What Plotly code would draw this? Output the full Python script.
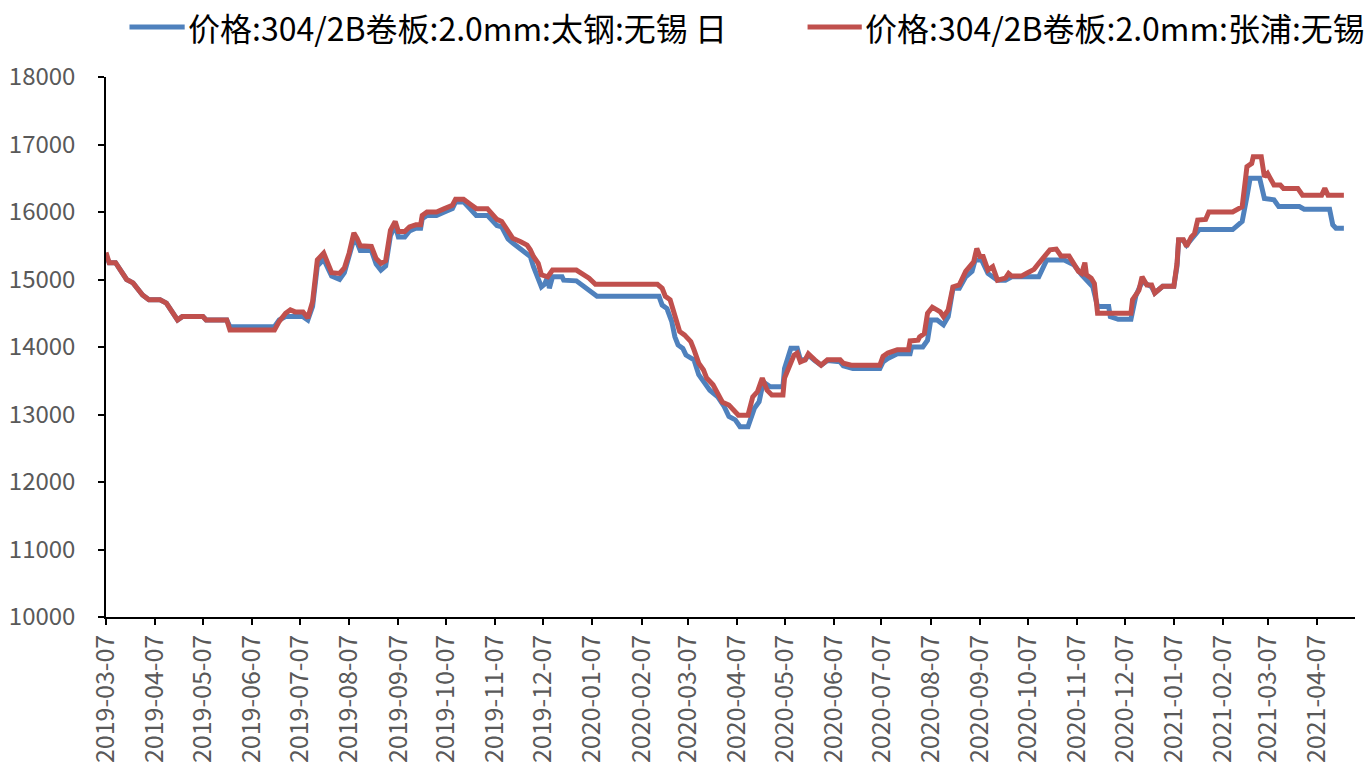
import plotly.graph_objects as go

# ---- data -------------------------------------------------------------
series_names = [
    "价格:304/2B卷板:2.0mm:太钢:无锡 日",
    "价格:304/2B卷板:2.0mm:张浦:无锡",
]

taigang_dates = [
    "2019-03-07", "2019-03-09", "2019-03-13", "2019-03-17", "2019-03-20", "2019-03-24",
    "2019-03-27", "2019-03-30", "2019-04-03", "2019-04-10", "2019-04-14", "2019-04-17",
    "2019-04-21", "2019-04-24", "2019-05-07", "2019-05-09", "2019-05-22", "2019-05-24",
    "2019-06-21", "2019-06-24", "2019-06-28", "2019-07-01", "2019-07-09", "2019-07-12",
    "2019-07-15", "2019-07-18", "2019-07-22", "2019-07-25", "2019-07-27", "2019-08-01",
    "2019-08-04", "2019-08-07", "2019-08-10", "2019-08-12", "2019-08-14", "2019-08-21",
    "2019-08-24", "2019-08-27", "2019-08-30", "2019-09-02", "2019-09-05", "2019-09-07",
    "2019-09-11", "2019-09-14", "2019-09-18", "2019-09-21", "2019-09-22", "2019-09-25",
    "2019-10-01", "2019-10-06", "2019-10-11", "2019-10-13", "2019-10-18", "2019-10-22",
    "2019-10-26", "2019-11-02", "2019-11-05", "2019-11-08", "2019-11-11", "2019-11-15",
    "2019-11-18", "2019-11-23", "2019-11-29", "2019-12-01", "2019-12-04", "2019-12-06",
    "2019-12-08", "2019-12-10", "2019-12-11", "2019-12-13", "2019-12-19", "2019-12-20",
    "2019-12-28", "2020-01-02", "2020-01-05", "2020-01-10", "2020-02-18", "2020-02-20",
    "2020-02-23", "2020-02-26", "2020-02-28", "2020-03-01", "2020-03-04", "2020-03-06",
    "2020-03-11", "2020-03-14", "2020-03-17", "2020-03-21", "2020-03-26", "2020-03-30",
    "2020-04-02", "2020-04-06", "2020-04-09", "2020-04-14", "2020-04-18", "2020-04-21",
    "2020-04-23", "2020-04-25", "2020-04-28", "2020-05-06", "2020-05-07", "2020-05-11",
    "2020-05-15", "2020-05-17", "2020-05-20", "2020-05-22", "2020-05-26", "2020-05-30",
    "2020-06-03", "2020-06-11", "2020-06-13", "2020-06-19", "2020-07-06", "2020-07-08",
    "2020-07-11", "2020-07-17", "2020-07-25", "2020-07-26", "2020-08-02", "2020-08-05",
    "2020-08-07", "2020-08-11", "2020-08-15", "2020-08-18", "2020-08-21", "2020-08-25",
    "2020-08-29", "2020-09-02", "2020-09-04", "2020-09-08", "2020-09-12", "2020-09-18",
    "2020-09-23", "2020-09-27", "2020-10-14", "2020-10-16", "2020-10-19", "2020-10-30",
    "2020-11-05", "2020-11-10", "2020-11-13", "2020-11-17", "2020-11-20", "2020-11-27",
    "2020-11-28", "2020-12-03", "2020-12-11", "2020-12-14", "2020-12-18", "2020-12-24",
    "2020-12-26", "2020-12-31", "2021-01-07", "2021-01-09", "2021-01-10", "2021-01-13",
    "2021-01-15", "2021-01-23", "2021-02-13", "2021-02-19", "2021-02-22", "2021-02-24",
    "2021-03-02", "2021-03-05", "2021-03-11", "2021-03-14", "2021-03-27", "2021-03-30",
    "2021-04-15", "2021-04-17", "2021-04-19", "2021-04-24",
]
taigang_prices = [
    15350, 15250, 15250, 15100, 15000, 14950,
    14870, 14770, 14700, 14700, 14650, 14550,
    14400, 14450, 14450, 14400, 14400, 14300,
    14300, 14400, 14450, 14450, 14450, 14400,
    14600, 15200, 15300, 15150, 15050, 15000,
    15100, 15350, 15600, 15550, 15430, 15430,
    15230, 15140, 15200, 15650, 15800, 15630,
    15630, 15720, 15760, 15760, 15900, 15950,
    15950, 16000, 16050, 16150, 16150, 16050,
    15950, 15950, 15880, 15800, 15780, 15600,
    15540, 15450, 15340, 15190, 15020, 14890,
    14930, 15040, 14870, 15040, 15040, 14990,
    14980, 14890, 14820, 14750, 14750, 14620,
    14570, 14380, 14150, 14030, 13980, 13880,
    13810, 13590, 13490, 13360, 13260, 13120,
    12970, 12920, 12820, 12820, 13090, 13190,
    13410, 13460, 13410, 13410, 13680, 13980,
    13980, 13810, 13810, 13880, 13800, 13730,
    13800, 13780, 13720, 13680, 13680, 13780,
    13830, 13900, 13900, 14000, 14000, 14100,
    14400, 14400, 14330, 14450, 14870, 14870,
    15040, 15120, 15290, 15290, 15090, 14990,
    14990, 15040, 15040, 15140, 15290, 15290,
    15220, 15070, 14990, 14890, 14600, 14600,
    14450, 14410, 14410, 14750, 14970, 14890,
    14800, 14900, 14900, 15200, 15580, 15580,
    15510, 15740, 15740, 15860, 16230, 16500,
    16500, 16200, 16180, 16080, 16080, 16040,
    16040, 15810, 15760, 15760,
]

zhangpu_dates = [
    "2019-03-07", "2019-03-09", "2019-03-13", "2019-03-17", "2019-03-20", "2019-03-24",
    "2019-03-27", "2019-03-30", "2019-04-03", "2019-04-10", "2019-04-14", "2019-04-17",
    "2019-04-21", "2019-04-24", "2019-05-07", "2019-05-09", "2019-05-22", "2019-05-24",
    "2019-06-21", "2019-06-24", "2019-06-28", "2019-07-01", "2019-07-04", "2019-07-09",
    "2019-07-12", "2019-07-15", "2019-07-18", "2019-07-22", "2019-07-25", "2019-07-27",
    "2019-08-01", "2019-08-04", "2019-08-07", "2019-08-10", "2019-08-12", "2019-08-14",
    "2019-08-21", "2019-08-24", "2019-08-27", "2019-08-30", "2019-09-02", "2019-09-05",
    "2019-09-07", "2019-09-11", "2019-09-14", "2019-09-18", "2019-09-21", "2019-09-22",
    "2019-09-25", "2019-10-01", "2019-10-06", "2019-10-11", "2019-10-13", "2019-10-18",
    "2019-10-22", "2019-10-26", "2019-11-02", "2019-11-05", "2019-11-08", "2019-11-11",
    "2019-11-15", "2019-11-18", "2019-11-23", "2019-11-27", "2019-11-29", "2019-12-01",
    "2019-12-04", "2019-12-06", "2019-12-10", "2019-12-13", "2019-12-28", "2020-01-02",
    "2020-01-05", "2020-01-09", "2020-02-17", "2020-02-20", "2020-02-22", "2020-02-25",
    "2020-02-27", "2020-02-29", "2020-03-02", "2020-03-05", "2020-03-09", "2020-03-11",
    "2020-03-14", "2020-03-17", "2020-03-19", "2020-03-23", "2020-03-26", "2020-03-29",
    "2020-04-02", "2020-04-05", "2020-04-08", "2020-04-14", "2020-04-17", "2020-04-20",
    "2020-04-23", "2020-04-26", "2020-04-29", "2020-05-06", "2020-05-07", "2020-05-10",
    "2020-05-13", "2020-05-15", "2020-05-17", "2020-05-20", "2020-05-22", "2020-05-26",
    "2020-05-30", "2020-06-03", "2020-06-11", "2020-06-13", "2020-06-18", "2020-07-06",
    "2020-07-08", "2020-07-11", "2020-07-17", "2020-07-24", "2020-07-25", "2020-07-30",
    "2020-07-31", "2020-08-03", "2020-08-05", "2020-08-08", "2020-08-13", "2020-08-15",
    "2020-08-18", "2020-08-21", "2020-08-25", "2020-08-29", "2020-09-01", "2020-09-03",
    "2020-09-05", "2020-09-07", "2020-09-09", "2020-09-12", "2020-09-15", "2020-09-18",
    "2020-09-23", "2020-09-25", "2020-09-27", "2020-10-03", "2020-10-07", "2020-10-11",
    "2020-10-14", "2020-10-18", "2020-10-21", "2020-10-25", "2020-10-28", "2020-11-02",
    "2020-11-05", "2020-11-08", "2020-11-10", "2020-11-12", "2020-11-13", "2020-11-16",
    "2020-11-18", "2020-11-20", "2020-12-11", "2020-12-12", "2020-12-16", "2020-12-18",
    "2020-12-21", "2020-12-24", "2020-12-26", "2020-12-31", "2021-01-07", "2021-01-09",
    "2021-01-10", "2021-01-13", "2021-01-15", "2021-01-18", "2021-01-20", "2021-01-22",
    "2021-01-27", "2021-01-29", "2021-02-13", "2021-02-19", "2021-02-21", "2021-02-22",
    "2021-02-25", "2021-02-26", "2021-03-03", "2021-03-05", "2021-03-07", "2021-03-09",
    "2021-03-11", "2021-03-15", "2021-03-17", "2021-03-26", "2021-03-29", "2021-04-10",
    "2021-04-12", "2021-04-14", "2021-04-24",
]
zhangpu_prices = [
    15400, 15250, 15250, 15100, 15000, 14950,
    14870, 14770, 14700, 14700, 14650, 14550,
    14400, 14450, 14450, 14400, 14400, 14250,
    14250, 14380, 14500, 14550, 14520, 14520,
    14430, 14670, 15290, 15390, 15240, 15100,
    15090, 15170, 15390, 15690, 15610, 15500,
    15490, 15310, 15240, 15280, 15730, 15860,
    15710, 15710, 15780, 15810, 15810, 15950,
    16000, 16000, 16050, 16100, 16190, 16190,
    16120, 16050, 16050, 15980, 15890, 15860,
    15710, 15610, 15560, 15510, 15440, 15340,
    15240, 15070, 15040, 15140, 15140, 15070,
    15020, 14930, 14930, 14870, 14750, 14700,
    14520, 14350, 14230, 14180, 14080, 13960,
    13760, 13660, 13540, 13440, 13290, 13180,
    13140, 13070, 12990, 12990, 13260, 13340,
    13540, 13360, 13290, 13290, 13540, 13710,
    13880, 13910, 13780, 13810, 13900, 13810,
    13730, 13810, 13810, 13760, 13730, 13730,
    13860, 13910, 13960, 13960, 14090, 14100,
    14150, 14200, 14500, 14590, 14520, 14450,
    14550, 14890, 14920, 15120, 15190, 15260,
    15460, 15340, 15340, 15140, 15190, 14990,
    15020, 15090, 15050, 15050, 15100, 15150,
    15240, 15360, 15440, 15450, 15350, 15350,
    15250, 15120, 15090, 15250, 15070, 15020,
    14940, 14500, 14500, 14700, 14840, 15040,
    14920, 14920, 14800, 14900, 14900, 15240,
    15590, 15590, 15490, 15630, 15680, 15880,
    15890, 16000, 16000, 16080, 16470, 16670,
    16720, 16820, 16820, 16520, 16570, 16470,
    16400, 16400, 16350, 16350, 16250, 16250,
    16350, 16250, 16250,
]

month_ticks = [
    "2019-03-07", "2019-04-07", "2019-05-07", "2019-06-07", "2019-07-07", "2019-08-07",
    "2019-09-07", "2019-10-07", "2019-11-07", "2019-12-07", "2020-01-07", "2020-02-07",
    "2020-03-07", "2020-04-07", "2020-05-07", "2020-06-07", "2020-07-07", "2020-08-07",
    "2020-09-07", "2020-10-07", "2020-11-07", "2020-12-07", "2021-01-07", "2021-02-07",
    "2021-03-07", "2021-04-07",
]
price_ticks = [10000, 11000, 12000, 13000, 14000, 15000, 16000, 17000, 18000]

# ---- styling ----------------------------------------------------------
BLUE = "#4F81BD"
RED = "#C0504D"
FONT = "Noto Sans CJK SC"
TICK_GREY = "#595959"

fig = go.Figure()
fig.add_trace(go.Scatter(
    x=taigang_dates, y=taigang_prices, mode="lines",
    name=series_names[0], line=dict(color=BLUE, width=5),
))
fig.add_trace(go.Scatter(
    x=zhangpu_dates, y=zhangpu_prices, mode="lines",
    name=series_names[1], line=dict(color=RED, width=5),
))

# legend drawn as line samples + text above the plot area
legend_items = [
    (series_names[0], BLUE, 0.0188, 0.0630),
    (series_names[1], RED, 0.5617, 0.6051),
]
for label, color, x0, x1 in legend_items:
    fig.add_shape(type="line", xref="paper", yref="paper",
                  x0=x0, x1=x1, y0=1.0926, y1=1.0926,
                  line=dict(color=color, width=5))
    fig.add_annotation(xref="paper", yref="paper", x=x1 + 0.001, y=1.0926,
                       text=label, showarrow=False, xanchor="left", yanchor="middle",
                       font=dict(family=FONT, size=32, color="#000000"))

fig.update_layout(
    width=1371, height=770,
    margin=dict(l=106, r=16, t=77, b=153, autoexpand=False),
    paper_bgcolor="white", plot_bgcolor="white",
    showlegend=False,
    font=dict(family=FONT, color=TICK_GREY),
)
fig.update_xaxes(
    type="date", automargin=False,
    range=["2019-03-07", "2021-05-01"],
    tickvals=month_ticks, tickformat="%Y-%m-%d", tickangle=-90,
    tickfont=dict(family=FONT, size=25, color=TICK_GREY),
    showgrid=False, zeroline=False,
    showline=True, linecolor="#000000", linewidth=1.5,
    ticks="outside", ticklen=6, tickcolor="#000000", tickwidth=1.5,
)
fig.update_yaxes(
    automargin=False,
    range=[10000, 18000], tickvals=price_ticks, tickformat="d",
    tickfont=dict(family=FONT, size=24, color=TICK_GREY),
    showgrid=False, zeroline=False,
    showline=True, linecolor="#000000", linewidth=1.5,
    ticks="outside", ticklen=6, tickcolor="#000000", tickwidth=1.5,
    ticklabelstandoff=18,
)

fig.write_html("out.html")
